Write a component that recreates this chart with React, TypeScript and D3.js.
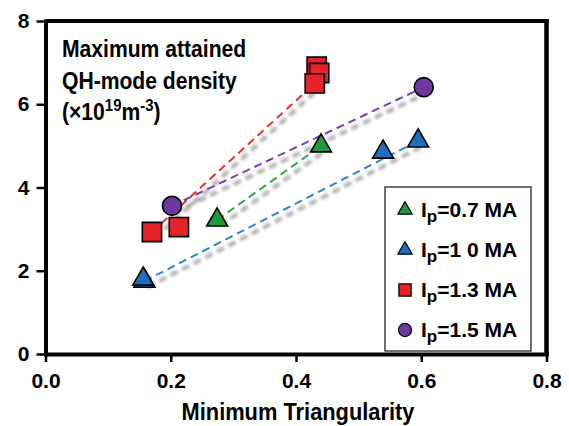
import React, { useEffect, useRef } from "react";
import * as d3 from "d3";

// values: [minimum triangularity, density (1e19 m^-3)]
const ip07 = [
  [0.274, 3.22],
  [0.44, 5.0],
];
const ip10 = [
  [0.158, 1.75],
  [0.156, 1.8],
  [0.539, 4.85],
  [0.595, 5.12],
];
const ip13 = [
  [0.17, 2.93],
  [0.213, 3.05],
  [0.433, 6.9],
  [0.437, 6.75],
  [0.43, 6.5],
];
const ip15 = [
  [0.202, 3.56],
  [0.604, 6.41],
];

const legendLabels = ["0.7", "1 0", "1.3", "1.5"];
const xTicks = [0, 0.2, 0.4, 0.6, 0.8];
const yTicks = [0, 2, 4, 6, 8];

const FONT = "'Liberation Sans', Arial, Helvetica, sans-serif";

const series = [
  { data: ip07, shape: d3.symbolTriangle, size: 190, fill: "#1f9b3e", line: "#2aa84a" },
  { data: ip10, shape: d3.symbolTriangle, size: 190, fill: "#1c6fc0", line: "#2a86d4" },
  { data: ip13, shape: d3.symbolSquare, size: 370, fill: "#e6232a", line: "#e8302e" },
  { data: ip15, shape: d3.symbolCircle, size: 285, fill: "#6c3a9e", line: "#7a3fb0" },
];
const legendSizes = [90, 90, 150, 135];

function App() {
  const ref = useRef<SVGSVGElement | null>(null);

  useEffect(() => {
    const svg = d3.select(ref.current);
    svg.selectAll("g.plot").remove();
    const g = svg.append("g").attr("class", "plot");

    const x = d3.scaleLinear().domain([0, 0.8]).range([45.5, 546.5]);
    const y = d3.scaleLinear().domain([0, 8]).range([354, 21]);

    // frame (top + right)
    g.append("line")
      .attr("x1", x(0))
      .attr("x2", x(0.8) + 2)
      .attr("y1", y(8))
      .attr("y2", y(8))
      .attr("stroke", "#000")
      .attr("stroke-width", 4);
    g.append("line")
      .attr("x1", x(0.8))
      .attr("x2", x(0.8))
      .attr("y1", y(8) - 2)
      .attr("y2", y(0))
      .attr("stroke", "#000")
      .attr("stroke-width", 4.5);

    const xAxis = g
      .append("g")
      .attr("transform", `translate(0,${y(0)})`)
      .call(
        d3
          .axisBottom(x)
          .tickValues(xTicks)
          .tickFormat(d3.format(".1f"))
          .tickSize(8)
          .tickSizeOuter(0)
          .tickPadding(11)
      );
    const yAxis = g
      .append("g")
      .attr("transform", `translate(${x(0)},0)`)
      .call(
        d3
          .axisLeft(y)
          .tickValues(yTicks)
          .tickFormat(d3.format("d"))
          .tickSize(9)
          .tickSizeOuter(0)
          .tickPadding(7)
      );
    [xAxis, yAxis].forEach((a) => {
      a.select(".domain").attr("stroke-width", 4).attr("stroke-linecap", "square");
      a.selectAll(".tick line").attr("stroke-width", 2.5);
      a.selectAll(".tick text")
        .attr("font-family", FONT)
        .attr("font-weight", "bold")
        .attr("font-size", 21)
        .attr("fill", "#000");
    });

    const line = d3
      .line<number[]>()
      .x((d) => x(d[0]))
      .y((d) => y(d[1]));

    // blurred grey shadows of the trend lines
    series.forEach((s) => {
      const ends = [s.data[0], s.data[s.data.length - 1]];
      g.append("path")
        .attr("d", line(ends))
        .attr("transform", "translate(3,6)")
        .attr("fill", "none")
        .attr("stroke", "#8c8c8c")
        .attr("stroke-width", 4)
        .attr("stroke-dasharray", "8 5")
        .attr("opacity", 0.7)
        .attr("filter", "url(#blur)");
    });
    series.forEach((s) => {
      const ends = [s.data[0], s.data[s.data.length - 1]];
      g.append("path")
        .attr("d", line(ends))
        .attr("fill", "none")
        .attr("stroke", s.line)
        .attr("stroke-width", 2)
        .attr("stroke-dasharray", "8 5");
    });

    series.forEach((s) => {
      g.selectAll(null)
        .data(s.data)
        .enter()
        .append("path")
        .attr("d", d3.symbol().type(s.shape).size(s.size)())
        .attr("transform", (d) => `translate(${x(d[0])},${y(d[1])})`)
        .attr("fill", s.fill)
        .attr("stroke", "#000")
        .attr("stroke-width", 1.6);
    });

    // legend
    const lg = g.append("g");
    lg.append("rect")
      .attr("x", 385)
      .attr("y", 187)
      .attr("width", 146)
      .attr("height", 164)
      .attr("fill", "#fff")
      .attr("stroke", "#222")
      .attr("stroke-width", 1.3);
    series.forEach((s, i) => {
      const base = 217 + i * 40;
      lg.append("path")
        .attr("d", d3.symbol().type(s.shape).size(legendSizes[i])())
        .attr("transform", `translate(405,${base - 7})`)
        .attr("fill", s.fill)
        .attr("stroke", "#000")
        .attr("stroke-width", 1.2);
      const t = lg
        .append("text")
        .attr("x", 421)
        .attr("y", base)
        .attr("font-family", FONT)
        .attr("font-weight", "bold")
        .attr("font-size", 21);
      t.append("tspan").text("I");
      t.append("tspan").attr("dy", 5).attr("font-size", 17).text("p");
      t.append("tspan").attr("dy", -5).text(`=${legendLabels[i]} MA`);
    });
  }, []);

  return (
    <svg
      ref={ref}
      width={569}
      height={426}
      style={{ position: "absolute", left: 0, top: 0, background: "#fff" }}
    >
      <defs>
        <filter id="blur" x="-20%" y="-20%" width="140%" height="140%">
          <feGaussianBlur stdDeviation="1.8" />
        </filter>
      </defs>
      <g fontFamily={FONT} fontWeight="bold" fontSize={24}>
        <g transform="translate(62,57) scale(0.88,1)">
          <text>Maximum attained</text>
        </g>
        <g transform="translate(62,89) scale(0.88,1)">
          <text>QH-mode density</text>
        </g>
        <g transform="translate(62,120) scale(0.88,1)">
          <text>
            (×10
            <tspan dy={-9} fontSize={17}>19</tspan>
            <tspan dy={9}>m</tspan>
            <tspan dy={-9} fontSize={17}>-3</tspan>
            <tspan dy={9}>)</tspan>
          </text>
        </g>
        <g transform="translate(298,420) scale(0.91,1)">
          <text textAnchor="middle">Minimum Triangularity</text>
        </g>
      </g>
    </svg>
  );
}

export default App;
